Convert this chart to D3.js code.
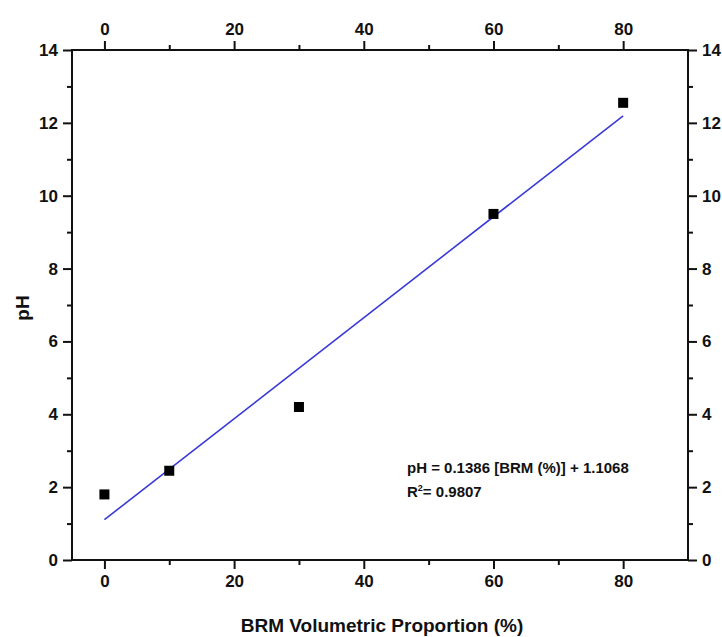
<!DOCTYPE html>
<html><head><meta charset="utf-8">
<script src="https://cdn.jsdelivr.net/npm/d3@7"></script>
<style>body{margin:0;background:#fff}svg{display:block}text{font-family:"Liberation Sans",Arial,sans-serif;font-weight:bold;fill:#111}</style>
</head><body>
<svg id="c" width="722" height="637"></svg>
<script>
const proportion = [0, 10, 30, 60, 80];
const phValues = [1.8, 2.45, 4.2, 9.5, 12.55];
const xTicks = [0, 20, 40, 60, 80];
const yTicks = [0, 2, 4, 6, 8, 10, 12, 14];
const fitSlope = 0.1386, fitIntercept = 1.1068;
const fitRange = [0, 80];

const svg = d3.select("#c");
const L = 72, R = 688, T = 50, B = 560;
const x = d3.scaleLinear().domain([-5, 90]).range([L, R]);
const y = d3.scaleLinear().domain([0, 14]).range([B, T]);

function styleAxis(g) {
  g.select(".domain").remove();
  g.selectAll("line").attr("stroke", "#111").attr("stroke-width", 2);
  g.selectAll("text").style("font-size", "17px").style("font-weight", "bold");
}
const xMinor = d3.range(10, 90, 20);
const yMinor = d3.range(1, 14, 2);

// minor ticks
svg.append("g").attr("transform", `translate(0,${B})`).call(d3.axisBottom(x).tickValues(xMinor).tickSize(5).tickFormat("")).call(styleAxis);
svg.append("g").attr("transform", `translate(0,${T})`).call(d3.axisTop(x).tickValues(xMinor).tickSize(5).tickFormat("")).call(styleAxis);
svg.append("g").attr("transform", `translate(${L},0)`).call(d3.axisLeft(y).tickValues(yMinor).tickSize(5).tickFormat("")).call(styleAxis);
svg.append("g").attr("transform", `translate(${R},0)`).call(d3.axisRight(y).tickValues(yMinor).tickSize(5).tickFormat("")).call(styleAxis);
// major ticks
svg.append("g").attr("transform", `translate(0,${B})`).call(d3.axisBottom(x).tickValues(xTicks).tickSize(9).tickPadding(6)).call(styleAxis);
svg.append("g").attr("transform", `translate(0,${T})`).call(d3.axisTop(x).tickValues(xTicks).tickSize(9).tickPadding(6)).call(styleAxis);
svg.append("g").attr("transform", `translate(${L},0)`).call(d3.axisLeft(y).tickValues(yTicks).tickSize(9).tickPadding(5)).call(styleAxis);
svg.append("g").attr("transform", `translate(${R},0)`).call(d3.axisRight(y).tickValues(yTicks).tickSize(9).tickPadding(5)).call(styleAxis);

// frame
svg.append("rect").attr("x", L).attr("y", T).attr("width", R - L).attr("height", B - T)
  .attr("fill", "none").attr("stroke", "#111").attr("stroke-width", 2);

// fit line
svg.append("line")
  .attr("x1", x(fitRange[0])).attr("y1", y(fitSlope * fitRange[0] + fitIntercept))
  .attr("x2", x(fitRange[1])).attr("y2", y(fitSlope * fitRange[1] + fitIntercept))
  .attr("stroke", "#3a3ad6").attr("stroke-width", 1.6);

// points
const s = 10;
svg.selectAll("rect.pt").data(proportion.map((d, i) => [d, phValues[i]])).enter()
  .append("rect").attr("class", "pt")
  .attr("x", d => x(d[0]) - s / 2).attr("y", d => y(d[1]) - s / 2)
  .attr("width", s).attr("height", s).attr("fill", "#000");

// annotation
const ann = svg.append("g");
ann.append("text").attr("x", 407).attr("y", 473).style("font-size", "15px").text("pH = 0.1386 [BRM (%)] + 1.1068");
const r2 = ann.append("text").attr("x", 407).attr("y", 497).style("font-size", "15px");
r2.append("tspan").text("R");
r2.append("tspan").attr("dy", -6).style("font-size", "9px").text("2");
r2.append("tspan").attr("dy", 6).text("= 0.9807");

// axis titles
svg.append("text").attr("x", 382).attr("y", 632).attr("text-anchor", "middle").style("font-size", "19px").text("BRM Volumetric Proportion (%)");
svg.append("text").attr("transform", "translate(29,308) rotate(-90)").attr("text-anchor", "middle").style("font-size", "19px").text("pH");
</script>
</body></html>
